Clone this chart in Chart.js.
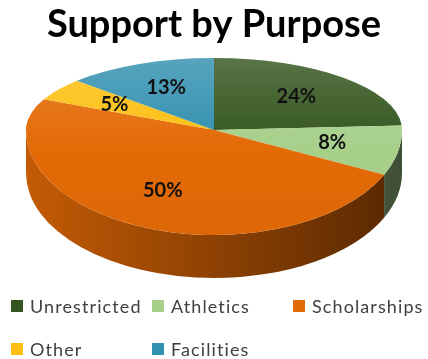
<!DOCTYPE html>
<html>
<head>
<meta charset="utf-8">
<script src="https://cdn.jsdelivr.net/npm/chart.js@4"></script>
<style>
  html, body { margin: 0; padding: 0; background: #fff; }
  #wrap { position: relative; width: 428px; height: 359px; }
  #legend { position: absolute; left: 11px; top: 294px; width: 420px;
    display: grid; grid-template-columns: 141px 141px 141px; row-gap: 19px;
    font-family: Lato, sans-serif; font-size: 18px; letter-spacing: 1.1px; color: #404040; }
  #legend span.item { display: flex; align-items: center; white-space: nowrap; height: 24px; }
  #legend i { display: inline-block; width: 12px; height: 12px; margin-right: 7px; }
</style>
</head>
<body>
<div id="wrap">
  <canvas id="myChart"></canvas>
  <div id="legend"></div>
</div>
<script>
const labels = ['Unrestricted', 'Athletics', 'Scholarships', 'Other', 'Facilities'];
const values = [24, 8, 50, 5, 13];
const colors = ['#34561E', '#A7D08B', '#E46A06', '#FCBF12', '#3290B0'];

// look of the tilted pie
const PY = 130, RX = 188, RY_TOP = 72, RY_BOT = 105, DEPTH = 43, LABEL_R = 0.64;

function rgb(hex) {
    const n = parseInt(hex.slice(1), 16);
    return [(n >> 16) & 255, (n >> 8) & 255, n & 255];
}
function shade(hex, k) {
    const c = rgb(hex).map(v => Math.round(v * k));
    return `rgb(${c[0]},${c[1]},${c[2]})`;
}
function tint(hex, k) {
    const c = rgb(hex).map(v => Math.round(v + (255 - v) * k));
    return `rgb(${c[0]},${c[1]},${c[2]})`;
}

const pie3d = {
    id: 'pie3d',
    beforeDatasetsDraw(chart) {
        const ctx = chart.ctx;
        const meta = chart.getDatasetMeta(0);
        const first = meta.data[0];
        const PX = first.x, R = first.outerRadius;
        const W = chart.width, H = chart.height;

        // side wall, front half only
        meta.data.forEach((el, i) => {
            const a1 = Math.max(el.startAngle, 0);
            const a2 = Math.min(el.endAngle, Math.PI);
            if (a2 <= a1) return;
            const g = ctx.createLinearGradient(PX - RX, 0, PX + RX, 0);
            g.addColorStop(0, shade(colors[i], 0.86));
            g.addColorStop(1, shade(colors[i], 0.38));
            ctx.beginPath();
            ctx.ellipse(PX, PY, RX, RY_BOT, 0, a1, a2);
            ctx.ellipse(PX, PY + DEPTH, RX, RY_BOT, 0, a2, a1, true);
            ctx.closePath();
            ctx.fillStyle = g;
            ctx.fill();
        });

        // top face, back half and front half squashed differently
        [[0, PY + 1, RY_TOP], [PY - 1, H, RY_BOT]].forEach(([y0, y1, ry]) => {
            ctx.save();
            ctx.beginPath();
            ctx.rect(0, y0, W, y1 - y0);
            ctx.clip();
            ctx.translate(PX, PY);
            ctx.scale(RX / R, ry / R);
            ctx.translate(-first.x, -first.y);
            meta.data.forEach(el => el.draw(ctx));
            ctx.restore();
        });

        // percentage labels
        ctx.save();
        ctx.font = 'bold 20px Lato, sans-serif';
        ctx.fillStyle = '#111';
        ctx.textAlign = 'center';
        ctx.textBaseline = 'middle';
        meta.data.forEach((el, i) => {
            const mid = (el.startAngle + el.endAngle) / 2;
            const s = Math.sin(mid);
            const ry = s < 0 ? RY_TOP : RY_BOT;
            ctx.fillText(values[i] + '%', PX + RX * LABEL_R * Math.cos(mid), PY + ry * LABEL_R * s);
        });
        ctx.restore();
        return false;
    }
};

const ctx = document.getElementById('myChart').getContext('2d');

const chart = new Chart(ctx, {
    type: 'pie',
    data: {
        labels: labels,
        datasets: [{
            data: values,
            backgroundColor: (c) => {
                const area = c.chart.chartArea;
                if (!area) return colors[c.dataIndex];
                const g = c.chart.ctx.createLinearGradient(0, area.top, 0, area.bottom);
                g.addColorStop(0, tint(colors[c.dataIndex], 0.18));
                g.addColorStop(0.6, colors[c.dataIndex]);
                g.addColorStop(1, shade(colors[c.dataIndex], 0.97));
                return g;
            },
            borderWidth: 0,
            clip: false
        }]
    },
    options: {
        responsive: true,
        maintainAspectRatio: false,
        animation: false,
        plugins: {
            legend: { display: false },
            tooltip: { enabled: false },
            title: {
                display: true,
                text: 'Support by Purpose',
                color: '#000',
                font: { family: 'Lato', size: 38, weight: 'bold' },
                padding: { top: 2, bottom: 4 }
            }
        }
    },
    plugins: [pie3d]
});

document.getElementById('legend').innerHTML = labels.map((l, i) =>
    `<span class="item"><i style="background:${colors[i]}"></i>${l}</span>`).join('');
</script>
</body>
</html>
